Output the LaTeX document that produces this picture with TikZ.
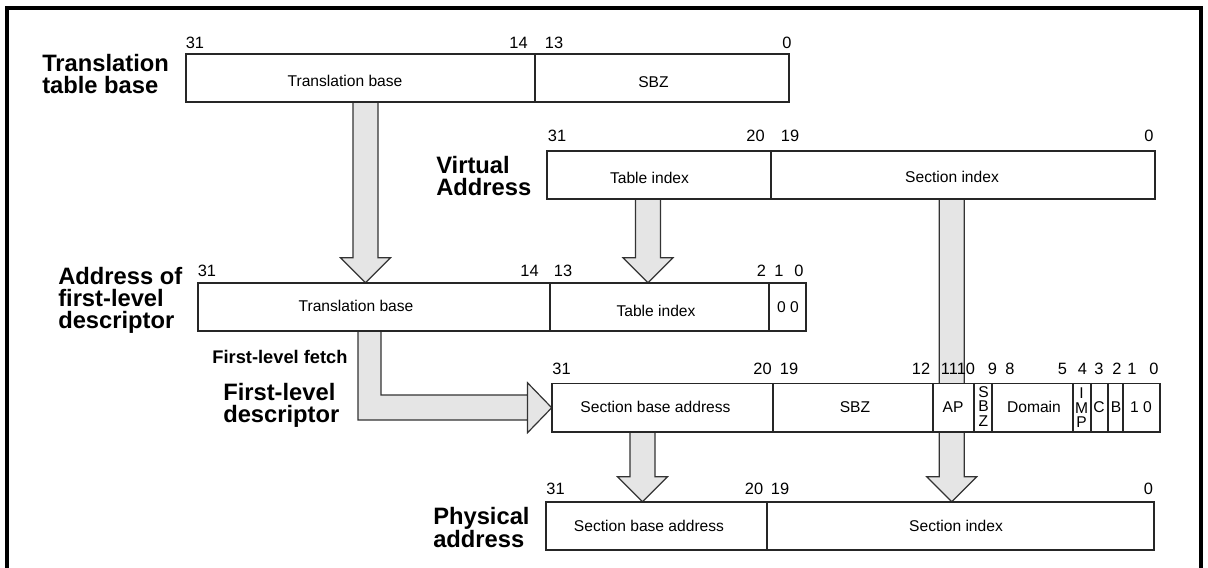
\documentclass[tikz,border=0pt]{standalone}
\usepackage{fontspec}
\setmainfont{Liberation Sans}
\usetikzlibrary{fit,calc}
\tikzset{
  bitbox/.style={draw=black!85, line width=0.85pt, fill=white, inner sep=0pt},
  divider/.style={draw=black!85, line width=0.85pt},
  blockarrow/.style={draw=black!80, line width=0.9pt, fill=black!10, line join=miter},
  num/.style={font=\fontsize{12.3}{14}\selectfont, inner sep=0pt},
  txt/.style={font=\fontsize{11.7}{13}\selectfont, inner sep=0pt},
  stack/.style={font=\fontsize{11.7}{10.9}\selectfont, inner sep=0pt, align=center},
  lbl/.style={font=\fontsize{17.8}{16.4}\selectfont\bfseries, inner sep=0pt, anchor=north west, align=left},
  frame/.style={draw=black, line width=3pt}
}
\newcommand\blockdown[3]{%
  \draw[blockarrow] (#1-12.5,0 |- #2.center)
    -- ($(#1-12.5,0 |- #3.north)+(0,-25)$)
    -- ($(#1-25,0 |- #3.north)+(0,-25)$)
    -- (#1,0 |- #3.north)
    -- ($(#1+25,0 |- #3.north)+(0,-25)$)
    -- ($(#1+12.5,0 |- #3.north)+(0,-25)$)
    -- (#1+12.5,0 |- #2.center) -- cycle;}
\begin{document}
\begin{tikzpicture}[x={(0.75pt,0)}, y={(0,-0.75pt)}]
\useasboundingbox (0,0) rectangle (1208,568);
\draw[frame] (7,8) rectangle (1200.5,620);

% box placeholders (for names, drawn later)
\path (186,54) coordinate (b1nw) (789,102) coordinate (b1se);
\path (547,151) coordinate (b2nw) (1155,199) coordinate (b2se);
\path (198,283) coordinate (b3nw) (806,331) coordinate (b3se);
\path (552,383.5) coordinate (b4nw) (1160,432) coordinate (b4se);
\path (546,502) coordinate (b5nw) (1154,550) coordinate (b5se);
\node[inner sep=0pt, fit=(b1nw)(b1se)] (b1) {};
\node[inner sep=0pt, fit=(b2nw)(b2se)] (b2) {};
\node[inner sep=0pt, fit=(b3nw)(b3se)] (b3) {};
\node[inner sep=0pt, fit=(b4nw)(b4se)] (b4) {};
\node[inner sep=0pt, fit=(b5nw)(b5se)] (b5) {};

% block arrows (behind the boxes)
\blockdown{365.5}{b1}{b3}
\blockdown{648}{b2}{b3}
\blockdown{951.7}{b2}{b5}
\blockdown{642.5}{b4}{b5}
\draw[blockarrow] (358,0 |- b3.center) -- (358,420) -- (527.5,420) -- (527.5,382.75)
  -- (b4.west) -- (527.5,432.75) -- (527.5,395) -- (381,395) -- (381,0 |- b3.center) -- cycle;

% boxes
\node[bitbox, fit=(b1nw)(b1se)] (B1) {};
\node[bitbox, fit=(b2nw)(b2se)] (B2) {};
\node[bitbox, fit=(b3nw)(b3se)] (B3) {};
\node[bitbox, fit=(b4nw)(b4se)] (B4) {};
\node[bitbox, fit=(b5nw)(b5se)] (B5) {};

% dividers
\draw[divider] (535,0 |- B1.north) -- (535,0 |- B1.south);
\draw[divider] (771,0 |- B2.north) -- (771,0 |- B2.south);
\draw[divider] (550,0 |- B3.north) -- (550,0 |- B3.south);
\draw[divider] (769,0 |- B3.north) -- (769,0 |- B3.south);
\foreach \dx in {773,933,974,992,1073,1091,1108,1123}
  \draw[divider] (\dx,0 |- B4.north) -- (\dx,0 |- B4.south);
\draw[divider] (767,0 |- B5.north) -- (767,0 |- B5.south);

% field texts
\node[txt] (t11) at (345,81) {Translation base};
\node[txt] (t12) at (653.5,82) {SBZ};
\node[txt] (t21) at (649.5,178) {Table index};
\node[txt] (t22) at (952,176.5) {Section index};
\node[txt] (t31) at (356,306) {Translation base};
\node[txt] (t32) at (656,311) {Table index};
\node[txt] (t33) at (788,307.5) {0 0};
\node[txt] (t41) at (655.5,407) {Section base address};
\node[txt] (t42) at (855,407) {SBZ};
\node[txt] (t43) at (953,407) {AP};
\node[stack] (t44) at (983.5,406.5) {S\\B\\Z};
\node[txt] (t45) at (1034,407) {Domain};
\node[stack] (t46) at (1081.5,408) {I\\M\\P};
\node[txt] (t47) at (1099,407) {C};
\node[txt] (t48) at (1116,407) {B};
\node[txt] (t49) at (1141,407) {1 0};
\node[txt] (t51) at (649,526) {Section base address};
\node[txt] (t52) at (956,526) {Section index};

% bit numbers
\node[num] (n11) at (195,43) {31};
\node[num] (n12) at (518.5,43) {14};
\node[num] (n13) at (554,43) {13};
\node[num] (n14) at (787,43) {0};
\node[num] (n21) at (557,136) {31};
\node[num] (n22) at (755.5,136) {20};
\node[num] (n23) at (790,136) {19};
\node[num] (n24) at (1149,136) {0};
\node[num] (n31) at (207,271) {31};
\node[num] (n32) at (529.5,271) {14};
\node[num] (n33) at (563,271) {13};
\node[num] (n34) at (761.5,271) {2};
\node[num] (n35) at (779,271) {1};
\node[num] (n36) at (799,271) {0};
\node[num] (n41) at (561.5,369) {31};
\node[num] (n42) at (762.5,369) {20};
\node[num] (n43) at (789,369) {19};
\node[num] (n44) at (921,369) {12};
\node[num] (n45) at (958,369) {1110};
\node[num] (n46) at (992.5,369) {9};
\node[num] (n47) at (1010,369) {8};
\node[num] (n48) at (1062.5,369) {5};
\node[num] (n49) at (1082.5,369) {4};
\node[num] (n4a) at (1099,369) {3};
\node[num] (n4b) at (1117,369) {2};
\node[num] (n4c) at (1132,369) {1};
\node[num] (n4d) at (1154,369) {0};
\node[num] (n51) at (555.5,489) {31};
\node[num] (n52) at (754,489) {20};
\node[num] (n53) at (780,489) {19};
\node[num] (n54) at (1148.5,489) {0};

% labels
\node[lbl] (L1) at (42,54) {Translation\\table base};
\node[lbl] (L2) at (436,156) {Virtual\\Address};
\node[lbl] (L3) at (58,267) {Address of\\first-level\\descriptor};
\node[font=\fontsize{13.7}{15}\selectfont\bfseries, inner sep=0pt] (L4) at (280,356.5) {First-level fetch};
\node[lbl] (L5) at (223,383) {First-level\\descriptor};
\node[lbl] (L6) at (433,507) {Physical\\address};
\end{tikzpicture}
\end{document}
